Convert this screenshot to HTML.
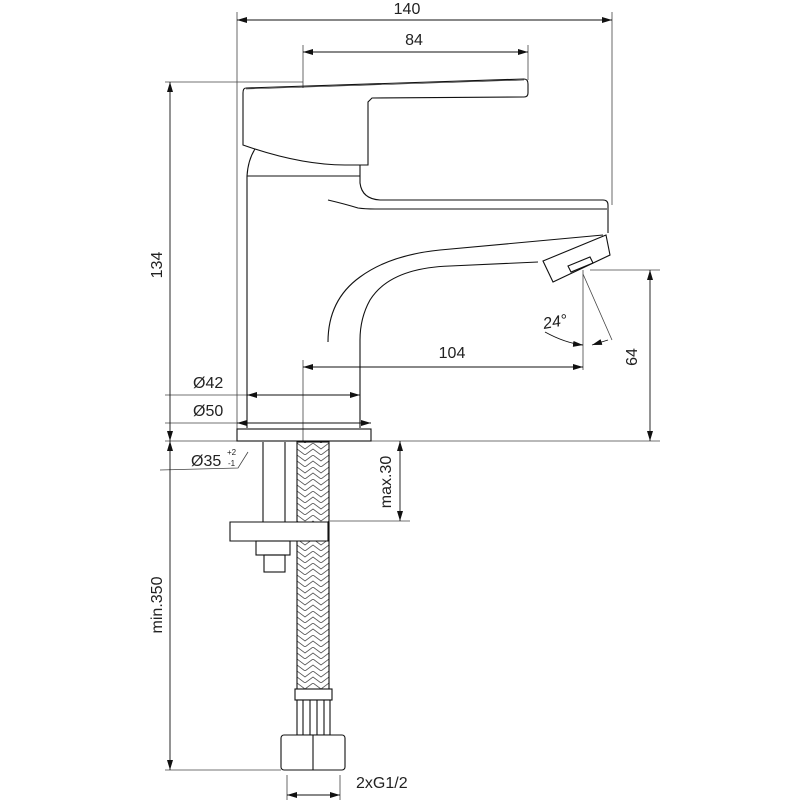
<!DOCTYPE html>
<html><head><meta charset="utf-8"><style>
html,body{margin:0;padding:0;background:#fff}
svg{display:block}
text{font-family:"Liberation Sans",sans-serif;fill:#222}
</style></head><body>
<svg width="800" height="800" viewBox="0 0 800 800" xmlns="http://www.w3.org/2000/svg">
<defs>
<marker id="a" viewBox="0 0 10 6" refX="10" refY="3" markerWidth="10" markerHeight="6" orient="auto-start-reverse" markerUnits="userSpaceOnUse"><path d="M0,0 L10,3 L0,6 Z" fill="#111"/></marker>
<pattern id="braid" width="32" height="12" patternUnits="userSpaceOnUse" x="297" y="443">
<path d="M0,0 L8,6 L16,0 L24,6 L32,0 M0,6 L8,12 L16,6 L24,12 L32,6" fill="none" stroke="#555" stroke-width="0.8"/>
</pattern>
</defs>
<g fill="none" stroke="#111" stroke-width="1.1">
<g stroke="#444" stroke-width="0.8">
<line x1="237" y1="12" x2="237" y2="430"/>
<line x1="612" y1="12" x2="612" y2="205"/>
<line x1="303" y1="45" x2="303" y2="88"/>
<line x1="528" y1="45" x2="528" y2="80"/>
<line x1="165" y1="82" x2="303" y2="82"/>
<line x1="165" y1="441" x2="660" y2="441"/>
<line x1="303" y1="360" x2="303" y2="441"/>
<line x1="583" y1="270" x2="583" y2="370"/>
<line x1="590" y1="270" x2="660" y2="270"/>
<line x1="583" y1="274" x2="612" y2="340"/>
<line x1="165" y1="395" x2="262" y2="395"/>
<line x1="165" y1="423" x2="240" y2="423"/>
<line x1="330" y1="521" x2="410" y2="521"/>
<line x1="165" y1="770" x2="281" y2="770"/>
<line x1="287" y1="775" x2="287" y2="800"/>
<line x1="340" y1="775" x2="340" y2="800"/>
<polyline points="160,470 238,468 248,452"/>
</g>
<g stroke-width="0.9">
<line x1="237" y1="20" x2="612" y2="20" marker-start="url(#a)" marker-end="url(#a)"/>
<line x1="303" y1="52" x2="528" y2="52" marker-start="url(#a)" marker-end="url(#a)"/>
<line x1="170" y1="82" x2="170" y2="441" marker-start="url(#a)" marker-end="url(#a)"/>
<line x1="303" y1="367" x2="583" y2="367" marker-start="url(#a)" marker-end="url(#a)"/>
<line x1="650" y1="270" x2="650" y2="441" marker-start="url(#a)" marker-end="url(#a)"/>
<line x1="247" y1="395" x2="360" y2="395" marker-start="url(#a)" marker-end="url(#a)"/>
<line x1="237" y1="423" x2="371" y2="423" marker-start="url(#a)" marker-end="url(#a)"/>
<line x1="400" y1="441" x2="400" y2="521" marker-start="url(#a)" marker-end="url(#a)"/>
<line x1="170" y1="441" x2="170" y2="770" marker-start="url(#a)" marker-end="url(#a)"/>
<line x1="287" y1="795" x2="340" y2="795" marker-start="url(#a)" marker-end="url(#a)"/>
<path d="M545,332 Q565,343 583,345" marker-end="url(#a)"/>
<line x1="608" y1="340" x2="592" y2="345" marker-end="url(#a)"/>
</g>
<path d="M246,88 L524,79 Q528,79 528,84 L528,93 Q528,97 524,97 L372,98 L368,102 L368,165 L345,165 Q300,165 243,145 L243,93 Q243,88 246,88 Z"/>
<line x1="246" y1="89" x2="524" y2="80" stroke-width="0.6"/>
<path d="M255,149 Q248,160 247,176 L247,428"/>
<line x1="247" y1="176" x2="360" y2="176"/>
<path d="M360,165 L360,183 Q362,199 380,200 L603,200 Q608,200 608,205 L608,233"/>
<path d="M328,200 Q345,204 358,208 Q365,209 375,209 L607,209"/>
<path d="M328,342 Q328,300 360,277 Q390,255 440,250 L603,235"/>
<path d="M538,262 L450,266 Q390,268 370,300 Q360,318 360,340 L360,428"/>
<polygon points="543,261 606,235 610,255 553,282"/>
<polygon points="568,266 590,257 593,263 571,272"/>
<rect x="237" y="429" width="134" height="12"/>
<line x1="263" y1="442" x2="263" y2="522"/>
<line x1="285" y1="442" x2="285" y2="522"/>
<rect x="297" y="442" width="32" height="248" fill="url(#braid)"/>
<path d="M230,522 L328,522 L328,541 L230,541 Z" fill="#fff"/>
<rect x="256" y="541" width="34" height="14" fill="#fff"/>
<rect x="264" y="555" width="21" height="17"/>
<rect x="295" y="689" width="37" height="11" fill="#fff"/>
<rect x="297" y="700" width="33" height="35" fill="#fff"/>
<line x1="303" y1="700" x2="303" y2="735"/><line x1="310" y1="700" x2="310" y2="735"/><line x1="317" y1="700" x2="317" y2="735"/><line x1="324" y1="700" x2="324" y2="735"/>
<rect x="281" y="735" width="64" height="35" rx="3" fill="#fff"/>
<line x1="313" y1="735" x2="313" y2="770"/>
</g>
<g font-size="16">
<text x="407" y="14" text-anchor="middle">140</text>
<text x="414" y="45" text-anchor="middle">84</text>
<text x="452" y="358" text-anchor="middle">104</text>
<text x="193" y="388">Ø42</text>
<text x="193" y="416">Ø50</text>
<text x="191" y="466">Ø35</text>
<text x="227" y="455" font-size="8">+2</text>
<text x="228" y="466" font-size="8">-1</text>
<text x="356" y="788">2xG1/2</text>
<text x="543" y="327" font-style="italic" transform="rotate(-10 555 322)">24°</text>
<text transform="translate(162,265) rotate(-90)" text-anchor="middle">134</text>
<text transform="translate(637,357) rotate(-90)" text-anchor="middle">64</text>
<text transform="translate(391,482) rotate(-90)" text-anchor="middle">max.30</text>
<text transform="translate(162,605) rotate(-90)" text-anchor="middle">min.350</text>
</g>
</svg>
</body></html>
